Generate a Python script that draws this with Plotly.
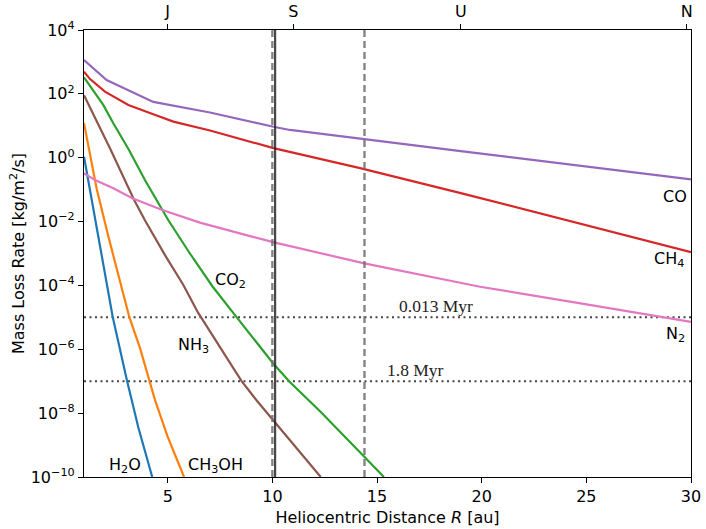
import plotly.graph_objects as go

# heliocentric distance [au] and mass loss rate [kg/m^2/s]
h2o_r = [1.0, 1.3, 1.64, 2.0, 2.37, 3.05, 3.6, 4.26]
h2o_q = [1.07, 0.08, 4.3e-3, 2.4e-4, 1.05e-5, 1.07e-7, 3.5e-9, 1.0e-10]

ch3oh_r = [1.0, 1.24, 1.6, 2.16, 2.91, 3.16, 3.68, 4.12, 4.39, 5.0, 5.78]
ch3oh_q = [12.0, 1.74, 0.11, 3.5e-3, 4.0e-5, 1.05e-5, 1.07e-6, 1.05e-7, 2.6e-8, 1.8e-9, 1.0e-10]

nh3_r = [1.0, 2.28, 3.39, 3.91, 4.87, 5.74, 6.45, 7.6, 8.53, 9.25, 10.1, 11.2, 12.31]
nh3_q = [91.0, 1.74, 0.048, 0.011, 8.9e-4, 1.05e-4, 1.4e-5, 8.9e-7, 1.0e-7, 2.5e-8, 5.4e-9,
         8.0e-10, 1.0e-10]

co2_r = [1.0, 1.92, 2.4, 3.15, 3.91, 4.74, 5.03, 6.06, 6.73, 7.15, 8.3, 9.2, 10.04, 10.81,
         12.3, 14.38, 15.33]
co2_q = [330.0, 45.0, 12.0, 1.74, 0.2, 0.023, 0.011, 1.0e-3, 2.4e-4, 9.1e-5, 1.0e-5, 1.8e-6,
         3.6e-7, 9.8e-8, 1.1e-8, 4.4e-10, 1.0e-10]

ch4_r = [1.0, 1.29, 2.0, 3.12, 4.31, 5.27, 7.02, 10.05, 14.19, 19.0, 30.0]
ch4_q = [490.0, 290.0, 117.0, 45.0, 23.0, 13.5, 7.1, 2.0, 0.47, 0.078, 1.1e-3]

co_r = [1.0, 2.08, 4.31, 7.02, 10.05, 10.84, 19.0, 30.0]
co_q = [1150.0, 270.0, 56.0, 26.0, 9.3, 7.4, 1.6, 0.21]

n2_r = [1.0, 1.53, 2.4, 3.31, 4.74, 6.54, 8.93, 10.13, 14.39, 19.92, 24.94, 30.0]
n2_q = [0.32, 0.2, 0.11, 0.054, 0.023, 9.3e-3, 3.5e-3, 2.2e-3, 4.9e-4, 9.1e-5, 2.6e-5, 7.2e-6]

species = ["H<sub>2</sub>O", "CH<sub>3</sub>OH", "NH<sub>3</sub>", "CO<sub>2</sub>",
           "CH<sub>4</sub>", "CO", "N<sub>2</sub>"]
colors = ["#1f77b4", "#ff7f0e", "#8c564b", "#2ca02c", "#d62728", "#9467bd", "#e377c2"]
curves = [(h2o_r, h2o_q), (ch3oh_r, ch3oh_q), (nh3_r, nh3_q), (co2_r, co2_q),
          (ch4_r, ch4_q), (co_r, co_q), (n2_r, n2_q)]

# label positions (R, log10 rate)
label_r = [2.94, 7.29, 6.22, 8.01, 28.97, 29.24, 29.28]
label_logq = [-9.65, -9.65, -5.87, -3.86, -3.20, -1.23, -5.55]

# reference levels and their timescales
ref_q = [1e-5, 1e-7]
ref_text = ["0.013 Myr", "1.8 Myr"]
ref_text_r = [17.8, 16.86]
ref_text_logq = [-4.64, -6.66]

# vertical markers
dashed_r = [10.0, 14.4]
solid_r = [10.13]

planet_r = [5.0, 11.0, 19.0, 29.8]
planet_names = ["J", "S", "U", "N"]

ytick_vals = [1e4, 1e2, 1e0, 1e-2, 1e-4, 1e-6, 1e-8, 1e-10]
ytick_text = ["10<sup>4</sup>", "10<sup>2</sup>", "10<sup>0</sup>", "10<sup>\u22122</sup>",
              "10<sup>\u22124</sup>", "10<sup>\u22126</sup>", "10<sup>\u22128</sup>",
              "10<sup>\u221210</sup>"]

FONT = "DejaVu Sans, sans-serif"

fig = go.Figure()

for q in ref_q:
    fig.add_trace(go.Scatter(x=[1, 30], y=[q, q], mode="lines",
                             line=dict(color="#444444", width=2, dash="2px,3.5px"),
                             hoverinfo="skip"))

for (r, q), c in zip(curves, colors):
    fig.add_trace(go.Scatter(x=r, y=q, mode="lines", line=dict(color=c, width=2.2)))

# invisible trace so the top axis is drawn
fig.add_trace(go.Scatter(x=[1, 30], y=[1, 1], xaxis="x2", mode="lines",
                         line=dict(width=0), hoverinfo="skip"))

shapes = []
for r in dashed_r:
    shapes.append(dict(type="line", xref="x", yref="paper", x0=r, x1=r, y0=0, y1=1,
                       line=dict(color="rgba(110,110,110,0.85)", width=2.4, dash="7px,4px")))
for r in solid_r:
    shapes.append(dict(type="line", xref="x", yref="paper", x0=r, x1=r, y0=0, y1=1,
                       line=dict(color="rgba(40,40,40,0.85)", width=2.2)))

annotations = []
for t, r, lq in zip(species, label_r, label_logq):
    annotations.append(dict(x=r, y=lq, xref="x", yref="y", text=t, showarrow=False,
                            font=dict(size=16, color="black", family=FONT)))
for t, r, lq in zip(ref_text, ref_text_r, ref_text_logq):
    annotations.append(dict(x=r, y=lq, xref="x", yref="y", text=t, showarrow=False,
                            font=dict(size=17.5, color="#222222",
                                      family="Liberation Serif, Times New Roman, serif")))

fig.update_layout(
    width=706, height=529,
    paper_bgcolor="white", plot_bgcolor="white",
    showlegend=False,
    margin=dict(l=84, r=15, t=30, b=52),
    font=dict(family=FONT, size=16, color="black"),
    xaxis=dict(range=[1, 30], tickvals=[5, 10, 15, 20, 25, 30], automargin=False,
               ticks="outside", ticklen=5, tickwidth=1.2, tickcolor="black",
               showline=True, linecolor="black", linewidth=1.3, mirror=True,
               showgrid=False, zeroline=False,
               title=dict(text="Heliocentric Distance <i>R</i> [au]", standoff=6,
                          font=dict(size=16))),
    xaxis2=dict(range=[1, 30], overlaying="x", side="top", anchor="y", automargin=False,
                tickvals=planet_r, ticktext=planet_names,
                ticks="outside", ticklen=5, tickwidth=1.2, tickcolor="black",
                showline=True, linecolor="black", linewidth=1.3,
                showgrid=False, zeroline=False),
    yaxis=dict(type="log", range=[-10, 4], tickvals=ytick_vals, ticktext=ytick_text,
               automargin=False,
               ticks="outside", ticklen=5, tickwidth=1.2, tickcolor="black",
               showline=True, linecolor="black", linewidth=1.3, mirror=True,
               showgrid=False, zeroline=False,
               title=dict(text="Mass Loss Rate [kg/m<sup>2</sup>/s]", standoff=2,
                          font=dict(size=16))),
    shapes=shapes,
    annotations=annotations,
)

# drop the default page margin so the figure sits at the window corner
fig.write_html("out.html", config={"displayModeBar": False},
               post_script="document.body.style.margin='0px';")
